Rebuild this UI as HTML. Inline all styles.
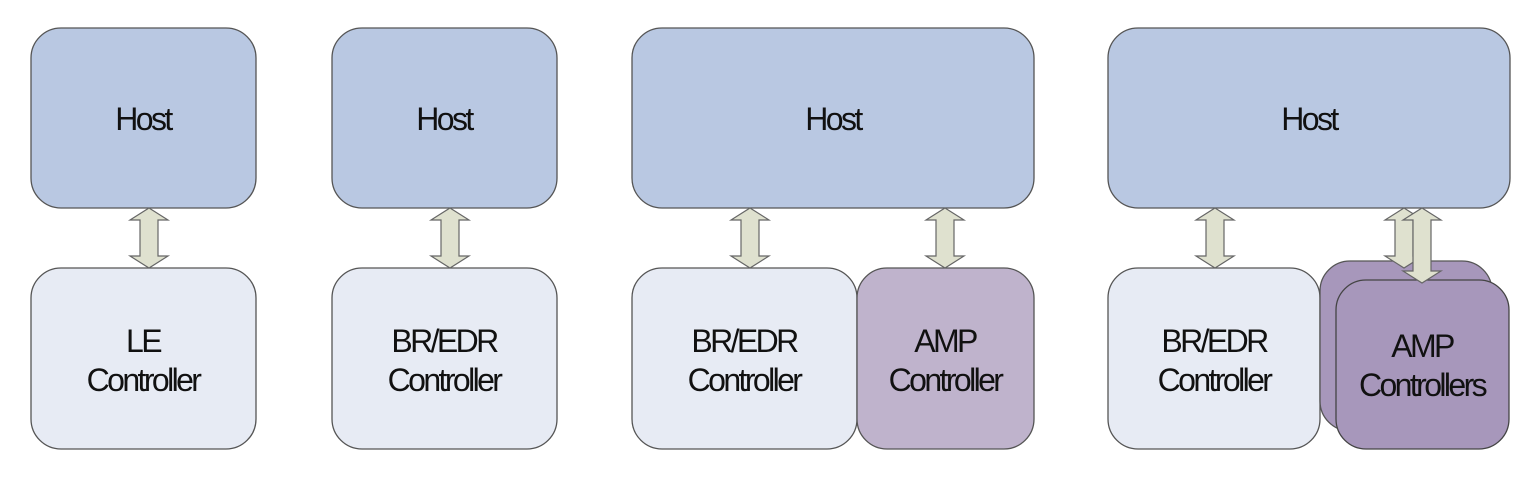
<!DOCTYPE html>
<html><head><style>
body{margin:0;background:#fff}
</style></head><body>
<svg width="1536" height="482" viewBox="0 0 1536 482" xmlns="http://www.w3.org/2000/svg" font-family="Liberation Sans, sans-serif" font-size="32" text-anchor="middle" letter-spacing="-2.6">
<defs>
<g id="arr"><path d="M0,0 L19,12 L9,12 L9,48 L19,48 L0,60 L-19,48 L-9,48 L-9,12 L-19,12 Z" fill="#dfe1cf" stroke="#666" stroke-width="1.2"/></g>
</defs>
<g stroke="#555" stroke-width="1.3">
<rect x="31" y="28" width="225" height="180" rx="30" fill="#b9c8e2"/>
<rect x="31" y="268" width="225" height="181" rx="30" fill="#e7ebf4"/>
<rect x="332" y="28" width="225" height="180" rx="30" fill="#b9c8e2"/>
<rect x="332" y="268" width="225" height="181" rx="30" fill="#e7ebf4"/>
<rect x="632" y="28" width="402" height="180" rx="30" fill="#b9c8e2"/>
<rect x="632" y="268" width="225" height="181" rx="30" fill="#e7ebf4"/>
<rect x="857" y="268" width="177" height="181" rx="30" fill="#bfb3cc"/>
<rect x="1108" y="28" width="402" height="180" rx="30" fill="#b9c8e2"/>
<rect x="1108" y="268" width="212" height="181" rx="30" fill="#e7ebf4"/>
<rect x="1320" y="261" width="172" height="170" rx="30" fill="#a797bb"/>
</g>
<use href="#arr" x="149" y="208"/>
<use href="#arr" x="450" y="208"/>
<use href="#arr" x="750" y="208"/>
<use href="#arr" x="945" y="208"/>
<use href="#arr" x="1215" y="208"/>
<use href="#arr" x="1404" y="208"/>
<rect x="1336" y="280" width="173" height="169" rx="30" fill="#a797bb" stroke="#444" stroke-width="1.3"/>
<path d="M1422,208 L1441,220 L1431,220 L1431,271 L1441,271 L1422,283 L1403,271 L1413,271 L1413,220 L1403,220 Z" fill="#dfe1cf" stroke="#666" stroke-width="1.2"/>
<g fill="#111">
<text x="143" y="130">Host</text>
<text x="444" y="130">Host</text>
<text x="833" y="130">Host</text>
<text x="1309" y="130">Host</text>
<text x="143" y="352">LE</text><text x="143" y="391">Controller</text>
<text x="444" y="352">BR/EDR</text><text x="444" y="391">Controller</text>
<text x="744" y="352">BR/EDR</text><text x="744" y="391">Controller</text>
<text x="945" y="352">AMP</text><text x="945" y="391">Controller</text>
<text x="1214" y="352">BR/EDR</text><text x="1214" y="391">Controller</text>
<text x="1422" y="357">AMP</text><text x="1422" y="396">Controllers</text>
</g>
</svg>
</body></html>
